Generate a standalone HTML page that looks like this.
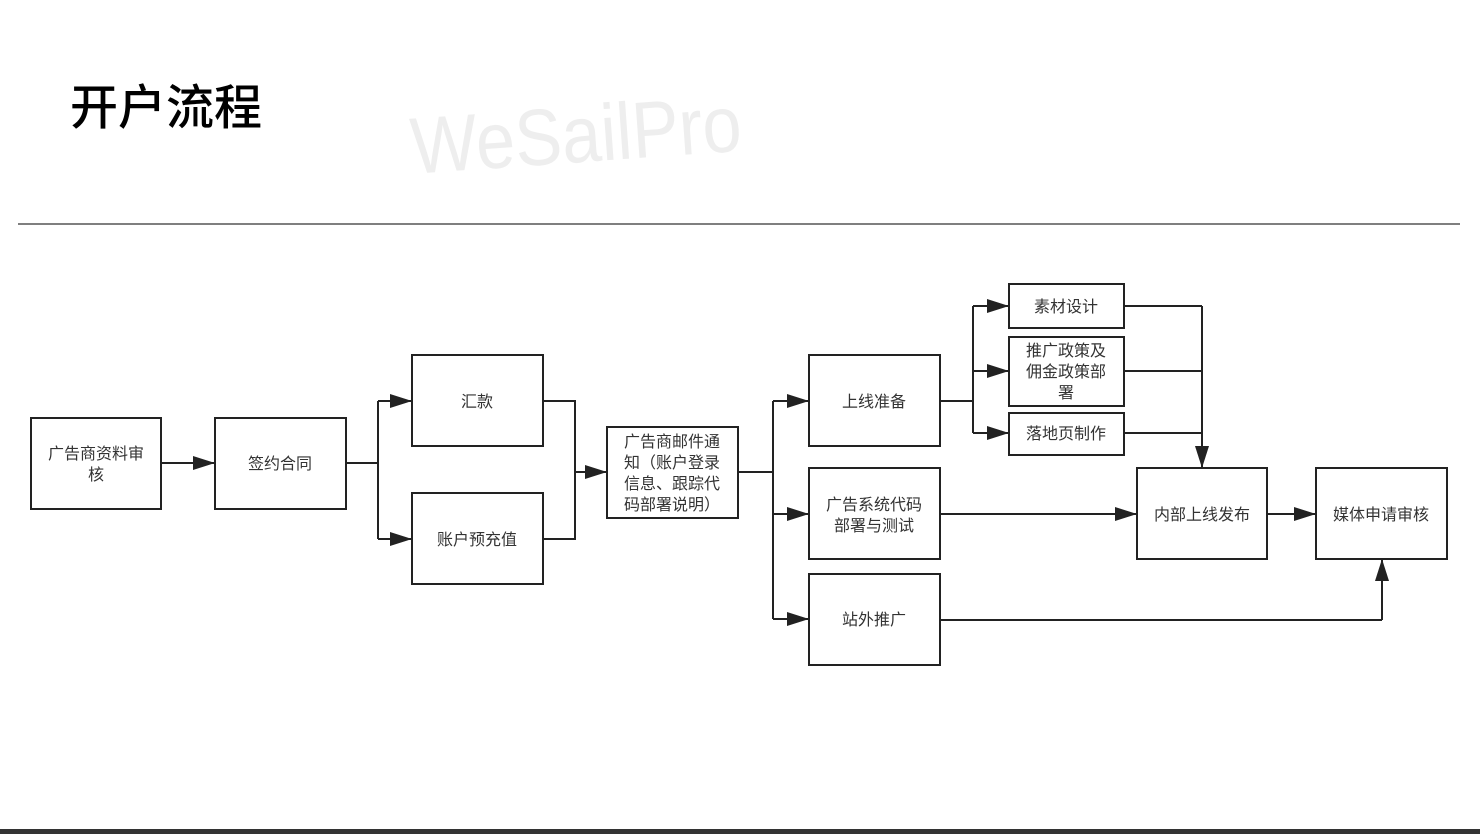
<!DOCTYPE html>
<html><head><meta charset="utf-8"><style>
html,body{margin:0;padding:0;background:#fff;}
body{width:1480px;height:834px;overflow:hidden;position:relative;}
svg text{font-family:"Liberation Sans","Noto Sans CJK SC",sans-serif;}
</style></head><body>
<svg width="1480" height="834" viewBox="0 0 1480 834" xmlns="http://www.w3.org/2000/svg">
<defs><marker id="b" markerWidth="22" markerHeight="14" refX="21" refY="7" orient="auto" markerUnits="userSpaceOnUse"><path d="M0,0 L22,7 L0,14 z" fill="#222"/></marker></defs>
<text x="70" y="124" font-size="48" font-weight="500" fill="#000" style="font-family:'Noto Sans CJK SC',sans-serif">开户流程</text>
<text x="410" y="162" font-size="80" fill="#eee" transform="rotate(-4 580 130) translate(410 0) scale(0.88 1) translate(-410 0)" style="font-family:'Liberation Sans',sans-serif">WeSailPro</text>
<line x1="18" y1="224" x2="1460" y2="224" stroke="#555" stroke-width="1.5"/>
<rect x="0" y="829" width="1480" height="5" fill="#333"/>
<g fill="#fff" stroke="#222" stroke-width="2">
<rect x="31" y="418" width="130" height="91"/>
<rect x="215" y="418" width="131" height="91"/>
<rect x="412" y="355" width="131" height="91"/>
<rect x="412" y="493" width="131" height="91"/>
<rect x="607" y="427" width="131" height="91"/>
<rect x="809" y="355" width="131" height="91"/>
<rect x="809" y="468" width="131" height="91"/>
<rect x="809" y="574" width="131" height="91"/>
<rect x="1009" y="284" width="115" height="44"/>
<rect x="1009" y="337" width="115" height="69"/>
<rect x="1009" y="413" width="115" height="42"/>
<rect x="1137" y="468" width="130" height="91"/>
<rect x="1316" y="468" width="131" height="91"/>
</g>
<g fill="none" stroke="#222" stroke-width="2">
<line x1="161" y1="463" x2="214" y2="463" marker-end="url(#b)"/>
<line x1="346" y1="463" x2="378" y2="463"/>
<path d="M378,401 V539"/>
<line x1="378" y1="401" x2="411" y2="401" marker-end="url(#b)"/>
<line x1="378" y1="539" x2="411" y2="539" marker-end="url(#b)"/>
<path d="M543,401 H575 V539 H543"/>
<line x1="575" y1="472" x2="606" y2="472" marker-end="url(#b)"/>
<line x1="738" y1="472" x2="773" y2="472"/>
<path d="M773,401 V619"/>
<line x1="773" y1="401" x2="808" y2="401" marker-end="url(#b)"/>
<line x1="773" y1="514" x2="808" y2="514" marker-end="url(#b)"/>
<line x1="773" y1="619" x2="808" y2="619" marker-end="url(#b)"/>
<line x1="940" y1="401" x2="973" y2="401"/>
<path d="M973,306 V433"/>
<line x1="973" y1="306" x2="1008" y2="306" marker-end="url(#b)"/>
<line x1="973" y1="371" x2="1008" y2="371" marker-end="url(#b)"/>
<line x1="973" y1="433" x2="1008" y2="433" marker-end="url(#b)"/>
<path d="M1124,306 H1202 M1124,371 H1202 M1124,433 H1202"/>
<line x1="1202" y1="306" x2="1202" y2="467" marker-end="url(#b)"/>
<line x1="940" y1="514" x2="1136" y2="514" marker-end="url(#b)"/>
<line x1="1267" y1="514" x2="1315" y2="514" marker-end="url(#b)"/>
<path d="M940,620 H1382"/>
<line x1="1382" y1="620" x2="1382" y2="560" marker-end="url(#b)"/>
</g>
<g font-size="16" fill="#333" text-anchor="middle">
<text x="96" y="459">广告商资料审</text><text x="96" y="480">核</text>
<text x="280" y="469">签约合同</text>
<text x="477" y="407">汇款</text>
<text x="477" y="545">账户预充值</text>
<text x="672" y="447">广告商邮件通</text>
<text x="672" y="468">知（账户登录</text>
<text x="672" y="489">信息、跟踪代</text>
<text x="672" y="510">码部署说明）</text>
<text x="874" y="407">上线准备</text>
<text x="874" y="510">广告系统代码</text><text x="874" y="531">部署与测试</text>
<text x="874" y="625">站外推广</text>
<text x="1066" y="312">素材设计</text>
<text x="1066" y="356">推广政策及</text><text x="1066" y="377">佣金政策部</text><text x="1066" y="398">署</text>
<text x="1066" y="439">落地页制作</text>
<text x="1202" y="520">内部上线发布</text>
<text x="1381" y="520">媒体申请审核</text>
</g>
</svg>
</body></html>
